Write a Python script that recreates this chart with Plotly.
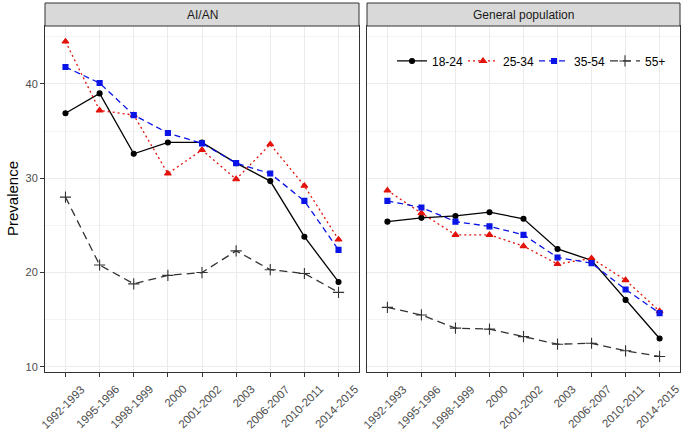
import plotly.graph_objects as go

periods = ["1992-1993", "1995-1996", "1998-1999", "2000", "2001-2002",
           "2003", "2006-2007", "2010-2011", "2014-2015"]
panels = ["AI/AN", "General population"]
groups = ["18-24", "25-34", "35-54", "55+"]

aian_18_24 = [36.9, 39.0, 32.6, 33.8, 33.8, 31.6, 29.7, 23.8, 19.0]
aian_25_34 = [44.5, 37.2, 36.7, 30.5, 33.0, 29.9, 33.6, 29.2, 23.5]
aian_35_54 = [41.8, 40.1, 36.7, 34.8, 33.7, 31.6, 30.5, 27.6, 22.4]
aian_55p = [28.0, 20.8, 18.8, 19.7, 20.0, 22.3, 20.3, 19.9, 17.9]

gen_18_24 = [25.4, 25.8, 26.0, 26.4, 25.7, 22.5, 21.3, 17.1, 13.0]
gen_25_34 = [28.7, 26.3, 24.0, 24.0, 22.8, 20.9, 21.5, 19.2, 15.9]
gen_35_54 = [27.6, 26.9, 25.4, 24.9, 24.0, 21.6, 21.0, 18.2, 15.7]
gen_55p = [16.3, 15.5, 14.1, 14.0, 13.2, 12.4, 12.5, 11.7, 11.1]

styles = {
    "18-24": dict(color="black", dash="solid", symbol="circle", size=5),
    "25-34": dict(color="#E3120B", dash="2px,3px", symbol="triangle-up", size=6),
    "35-54": dict(color="#0A14E6", dash="6px,4px", symbol="square", size=5),
    "55+": dict(color="#333333", dash="8px,5px", symbol="cross-thin", size=8),
}

data = {
    "AI/AN": [aian_18_24, aian_25_34, aian_35_54, aian_55p],
    "General population": [gen_18_24, gen_25_34, gen_35_54, gen_55p],
}

fig = go.Figure()
for pi, panel in enumerate(panels):
    xa = "x" if pi == 0 else "x2"
    ya = "y" if pi == 0 else "y2"
    for g, vals in zip(groups, data[panel]):
        s = styles[g]
        fig.add_trace(go.Scatter(
            x=periods, y=vals, mode="lines+markers", name=g,
            xaxis=xa, yaxis=ya, showlegend=(pi == 0),
            line=dict(color=s["color"], dash=s["dash"], width=1.3),
            marker=dict(symbol=s["symbol"], size=s["size"], color=s["color"],
                        line=dict(color=s["color"], width=1.1)),
        ))

L, R, T, B = 45, 5, 26, 59
W, H = 685, 431
pw = W - L - R
ph = H - T - B
left_dom = [0, (359 - L) / pw]
right_dom = [(367 - L) / pw, 1]

tickfont = dict(family="Liberation Sans, Arial", size=11, color="#4D4D4D")
xlabfont = dict(family="Liberation Sans, Arial", size=11.5, color="#4D4D4D")
xcommon = dict(type="category", categoryorder="array", categoryarray=periods,
               range=[-0.6, 8.6], showgrid=True,
               gridcolor="#EBEBEB", gridwidth=1, showline=True, mirror=True,
               linecolor="#333333", linewidth=1, ticks="outside", ticklen=4,
               tickcolor="#333333", showticklabels=False,
               zeroline=False, automargin=False)
ycommon = dict(range=[9.45, 46.15], tickvals=[10, 20, 30, 40], showgrid=True,
               gridcolor="#EBEBEB", gridwidth=1, showline=True, mirror=True,
               linecolor="#333333", linewidth=1, zeroline=False,
               automargin=False,
               minor=dict(tickvals=[15, 25, 35, 45], showgrid=True,
                          gridcolor="#F3F3F3", gridwidth=0.6))

fig.update_layout(
    width=W, height=H,
    margin=dict(l=L, r=R, t=T, b=B, autoexpand=False),
    paper_bgcolor="white", plot_bgcolor="white",
    font=dict(family="Liberation Sans, Arial", color="black"),
    xaxis=dict(domain=left_dom, anchor="y", **xcommon),
    xaxis2=dict(domain=right_dom, anchor="y2", **xcommon),
    yaxis=dict(anchor="x", ticks="outside", ticklen=4, tickcolor="#333333",
               tickfont=tickfont, **ycommon),
    yaxis2=dict(anchor="x2", matches="y", showticklabels=False, ticks="",
                **ycommon),
    legend=dict(orientation="h", x=(392 - L) / pw, xanchor="left", y=0.899,
                yanchor="middle", bgcolor="rgba(0,0,0,0)",
                font=dict(size=12, color="black"), itemwidth=30,
                entrywidth=26, tracegroupgap=0),
    showlegend=True,
)

# rotated category labels below each panel (ggplot-style placement)
for xref in ["x", "x2"]:
    for i, p in enumerate(periods):
        fig.add_annotation(x=i, xref=xref, y=-(380 - (T + ph)) / ph,
                           yref="paper", text=p, textangle=-45,
                           showarrow=False, xanchor="right", yanchor="top",
                           xshift=24, font=xlabfont)

# y-axis title
fig.add_annotation(x=-(L - 12) / pw, y=0.5, xref="paper", yref="paper",
                   text="Prevalence", textangle=-90, showarrow=False,
                   xanchor="center", yanchor="middle",
                   font=dict(size=15, color="black",
                             family="Liberation Sans, Arial"))

strip_h = 23 / ph
for dom, label in zip([left_dom, right_dom], panels):
    fig.add_shape(type="rect", xref="paper", yref="paper",
                  x0=dom[0], x1=dom[1], y0=1, y1=1 + strip_h,
                  fillcolor="#D9D9D9", line=dict(color="#333333", width=1),
                  layer="above")
    fig.add_annotation(x=(dom[0] + dom[1]) / 2, y=1 + strip_h / 2,
                       xref="paper", yref="paper", text=label,
                       showarrow=False,
                       font=dict(size=12, color="#1A1A1A",
                                 family="Liberation Sans, Arial"),
                       xanchor="center", yanchor="middle")

fig.write_html("out.html", config={"displayModeBar": False},
               post_script="document.body.style.margin='0';document.body.style.padding='0';")
